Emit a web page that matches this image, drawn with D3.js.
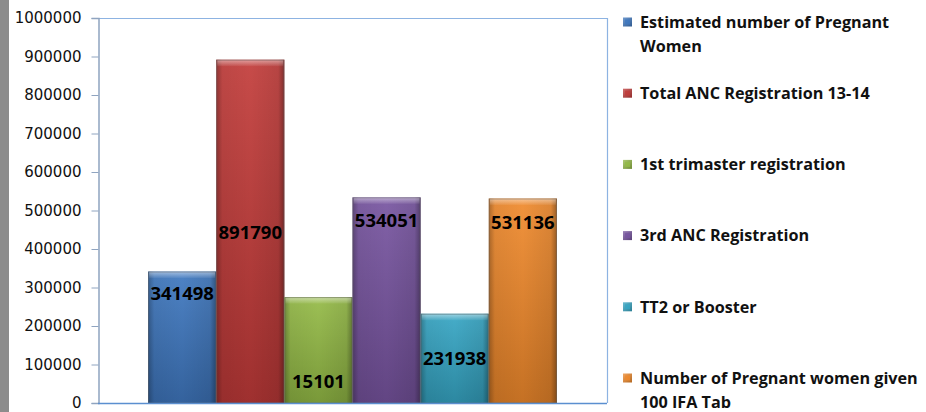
<!DOCTYPE html>
<html><head><meta charset="utf-8">
<script src="https://cdn.jsdelivr.net/npm/d3@7"></script>
<style>html,body{margin:0;padding:0;background:#fff;}svg{display:block;}</style>
</head><body>
<svg id="chart" width="926" height="412"></svg>
<script>
// ---- data ----
const series = ["Estimated number of Pregnant Women","Total ANC Registration 13-14","1st trimaster registration","3rd ANC Registration","TT2 or Booster","Number of Pregnant women given 100 IFA Tab"];
const values = [341498, 891790, 275000, 534051, 231938, 531136];
const labelTexts = ["341498","891790","15101","534051","231938","531136"];
const yTicks = [0,100000,200000,300000,400000,500000,600000,700000,800000,900000,1000000];
const colors = ["#3f78c0","#c23b39","#94bb46","#7754a0","#36a6c4","#f08a2c"];
const legendLines = [["Estimated number of Pregnant","Women"],["Total ANC Registration 13-14"],["1st trimaster registration"],["3rd ANC Registration"],["TT2 or Booster"],["Number of Pregnant women given","100 IFA Tab"]];

// ---- layout ----
const L = {left:98, top:18, right:607, bottom:403};
const labelAt = [286000, 444000, 55000, 475000, 117000, 470000]; // label centre positions (value units)

const svg = d3.select("#chart");
const defs = svg.append("defs");

const y = d3.scaleLinear().domain([0,1000000]).range([L.bottom, L.top]);
const x = d3.scaleBand().domain(series).range([L.left, L.right]).paddingInner(0).paddingOuter(0.735);

// left grey strip
svg.append("rect").attr("x",0).attr("y",0).attr("width",9).attr("height",412).attr("fill","#8c8c8c");

// plot box border (top & right)
svg.append("line").attr("x1",L.left).attr("x2",L.right).attr("y1",L.top+0.5).attr("y2",L.top+0.5).attr("stroke","#8db3e2").attr("stroke-width",1.2);
svg.append("line").attr("x1",L.right+0.5).attr("x2",L.right+0.5).attr("y1",L.top).attr("y2",L.bottom).attr("stroke","#8db3e2").attr("stroke-width",1.2);

// gradients
function shade(c, k){ return k>0? d3.interpolateRgb(c,"#fff")(k) : d3.interpolateRgb(c,"#000")(-k); }
colors.forEach((c,i)=>{
  const g = defs.append("linearGradient").attr("id","gv"+i).attr("x1",0).attr("y1",0).attr("x2",0).attr("y2",1);
  g.append("stop").attr("offset","0%").attr("stop-color",shade(c,0.08));
  g.append("stop").attr("offset","100%").attr("stop-color",shade(c,-0.18));
  const m = defs.append("linearGradient").attr("id","gm"+i).attr("x1",0).attr("y1",0).attr("x2",1).attr("y2",1);
  m.append("stop").attr("offset","0%").attr("stop-color",shade(c,0.25));
  m.append("stop").attr("offset","100%").attr("stop-color",shade(c,-0.25));
});
const gh = defs.append("linearGradient").attr("id","gh").attr("x1",0).attr("y1",0).attr("x2",1).attr("y2",0);
[[0,0.28],[0.09,0.05],[0.5,0],[0.91,0.08],[1,0.35]].forEach(s=>gh.append("stop").attr("offset",s[0]).attr("stop-color","#000").attr("stop-opacity",s[1]));
const gt = defs.append("linearGradient").attr("id","gt").attr("x1",0).attr("y1",0).attr("x2",0).attr("y2",1);
gt.append("stop").attr("offset",0).attr("stop-color","#fff").attr("stop-opacity",0.45);
gt.append("stop").attr("offset",1).attr("stop-color","#fff").attr("stop-opacity",0.05);

// bars
const bars = svg.append("g").selectAll("g").data(series).join("g");
bars.append("rect")
  .attr("x",d=>x(d)).attr("width",x.bandwidth())
  .attr("y",(d,i)=>y(values[i])).attr("height",(d,i)=>y(0)-y(values[i]))
  .attr("fill",(d,i)=>`url(#gv${i})`);
bars.append("rect")
  .attr("x",d=>x(d)).attr("width",x.bandwidth())
  .attr("y",(d,i)=>y(values[i])).attr("height",(d,i)=>y(0)-y(values[i]))
  .attr("fill","url(#gh)");
bars.append("rect")
  .attr("x",d=>x(d)+1).attr("width",x.bandwidth()-2)
  .attr("y",(d,i)=>y(values[i])+0.5).attr("height",6)
  .attr("fill","url(#gt)");
bars.append("rect")
  .attr("x",d=>x(d)+0.5).attr("width",x.bandwidth()-1)
  .attr("y",(d,i)=>y(values[i])+0.5).attr("height",(d,i)=>y(0)-y(values[i])-0.5)
  .attr("fill","none").attr("stroke","rgba(90,90,90,0.45)").attr("stroke-width",1);

// y axis
const yAxis = d3.axisLeft(y).tickValues(yTicks).tickFormat(d3.format("d")).tickSize(7).tickPadding(10);
const ya = svg.append("g").attr("transform",`translate(${L.left+0.5},0)`).call(yAxis);
ya.select(".domain").attr("stroke","#8fa4c0").attr("stroke-width",1.5);
ya.selectAll(".tick line").attr("stroke","#8fa4c0");
ya.selectAll(".tick text").attr("font-family","'DejaVu Sans', sans-serif").attr("font-size",15).attr("fill","#111");

// x axis baseline
svg.append("line").attr("x1",L.left).attr("x2",L.right).attr("y1",L.bottom+0.5).attr("y2",L.bottom+0.5).attr("stroke","#5b8fd0").attr("stroke-width",1.3);

// data labels
bars.append("text")
  .attr("x",d=>x(d)+x.bandwidth()/2)
  .attr("y",(d,i)=>y(labelAt[i]))
  .attr("dy","0.36em")
  .attr("text-anchor","middle")
  .attr("font-family","'Open Sans', sans-serif").attr("font-weight",700).attr("font-size",18.5)
  .attr("fill","#000")
  .text((d,i)=>labelTexts[i]);

// legend
const legY0 = 22, legStep = 71.2, lineH = 24;
const leg = svg.append("g").selectAll("g").data(series).join("g")
  .attr("transform",(d,i)=>`translate(623,${legY0+i*legStep})`);
leg.append("rect").attr("x",0).attr("y",-4.5).attr("width",9).attr("height",9).attr("fill",(d,i)=>`url(#gm${i})`);
leg.append("rect").attr("x",2).attr("y",-2.5).attr("width",5).attr("height",5).attr("fill",(d,i)=>colors[i]).attr("opacity",0.8);
leg.each(function(d,i){
  const t = d3.select(this).append("text").attr("x",17).attr("y",0)
    .attr("font-family","'Open Sans', sans-serif").attr("font-weight",700).attr("font-size",16.2).attr("fill","#111");
  legendLines[i].forEach((ln,j)=>t.append("tspan").attr("x",17).attr("y",j*lineH).attr("dy","0.36em").text(ln));
});
</script>
</body></html>
